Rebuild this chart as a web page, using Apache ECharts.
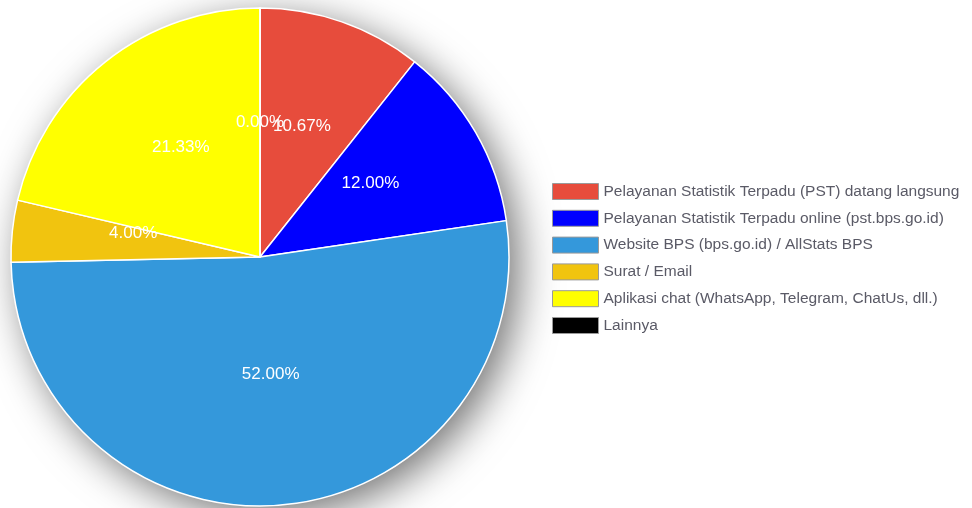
<!DOCTYPE html>
<html>
<head>
<meta charset="utf-8">
<script src="https://cdn.jsdelivr.net/npm/echarts@6/dist/echarts.min.js"></script>
<style>
  html, body { margin: 0; padding: 0; background: #ffffff; }
  #chart { width: 972px; height: 508px; }
</style>
</head>
<body>
<div id="chart"></div>
<script>
// Channels used to access the service (respondent counts)
const categories = [
  'Pelayanan Statistik Terpadu (PST) datang langsung',
  'Pelayanan Statistik Terpadu online (pst.bps.go.id)',
  'Website BPS (bps.go.id) / AllStats BPS',
  'Surat / Email',
  'Aplikasi chat (WhatsApp, Telegram, ChatUs, dll.)',
  'Lainnya'
];
const counts = [8, 9, 39, 3, 16, 0];
const sliceColors = ['#e74c3c', '#0000ff', '#3498db', '#f1c40f', '#ffff00', '#000000'];

const total = counts.reduce((a, b) => a + b, 0);
const pct = v => (v / total * 100).toFixed(2) + '%';
const pieData = categories.map((name, i) => ({
  name: name,
  value: counts[i],
  itemStyle: { color: sliceColors[i] }
}));

const chart = echarts.init(document.getElementById('chart'), null, { renderer: 'canvas' });
const pieCenter = [260, 257];
const pieRadius = 249;
const labelFont = {
  fontFamily: 'Liberation Sans, Arial, sans-serif',
  fontSize: 17
};

// Empty slices get no label from the pie itself, so place theirs at the
// middle of the radius, on the angle where the slice sits.
const zeroLabels = [];
let cum = 0;
counts.forEach(v => {
  if (v === 0) {
    const ang = Math.PI / 2 - (cum / total) * 2 * Math.PI;
    zeroLabels.push({
      type: 'text',
      x: pieCenter[0] + Math.cos(ang) * pieRadius / 2,
      y: pieCenter[1] - Math.sin(ang) * pieRadius / 2 - 10,
      z: 10,
      style: Object.assign({
        text: pct(v),
        fill: '#ffffff',
        align: 'center',
        verticalAlign: 'middle'
      }, { font: labelFont.fontSize + 'px ' + labelFont.fontFamily })
    });
  }
  cum += v;
});

chart.setOption({
  animation: false,
  legend: {
    data: categories,
    orient: 'vertical',
    left: 547,
    top: 178,
    icon: 'rect',
    itemWidth: 46,
    itemHeight: 16,
    itemGap: 9.8,
    selectedMode: false,
    itemStyle: { borderColor: '#9a9a9a', borderWidth: 1 },
    textStyle: {
      fontFamily: 'Liberation Sans, Arial, sans-serif',
      fontSize: 15.5,
      lineHeight: 16,
      color: '#5a5a66'
    }
  },
  graphic: zeroLabels,
  series: [
    {
      // soft drop shadow under the whole disc
      type: 'pie',
      silent: true,
      center: pieCenter,
      radius: pieRadius,
      label: { show: false },
      labelLine: { show: false },
      itemStyle: {
        color: '#ffffff',
        shadowBlur: 40,
        shadowOffsetX: 10,
        shadowOffsetY: 10,
        shadowColor: 'rgba(0,0,0,0.55)'
      },
      data: [{ name: '_bg', value: 1 }],
      z: 1
    },
    {
      type: 'pie',
      center: pieCenter,
      radius: pieRadius,
      startAngle: 90,
      clockwise: true,
      z: 2,
      itemStyle: { borderColor: '#ffffff', borderWidth: 1.5 },
      label: Object.assign({
        show: true,
        position: 'inside',
        color: '#ffffff',
        lineHeight: 20,
        // second empty line lifts the value a little above the slice midpoint
        formatter: p => pct(p.value) + '\n '
      }, labelFont),
      labelLine: { show: false },
      emphasis: { disabled: true },
      data: pieData
    }
  ]
});
</script>
</body>
</html>
